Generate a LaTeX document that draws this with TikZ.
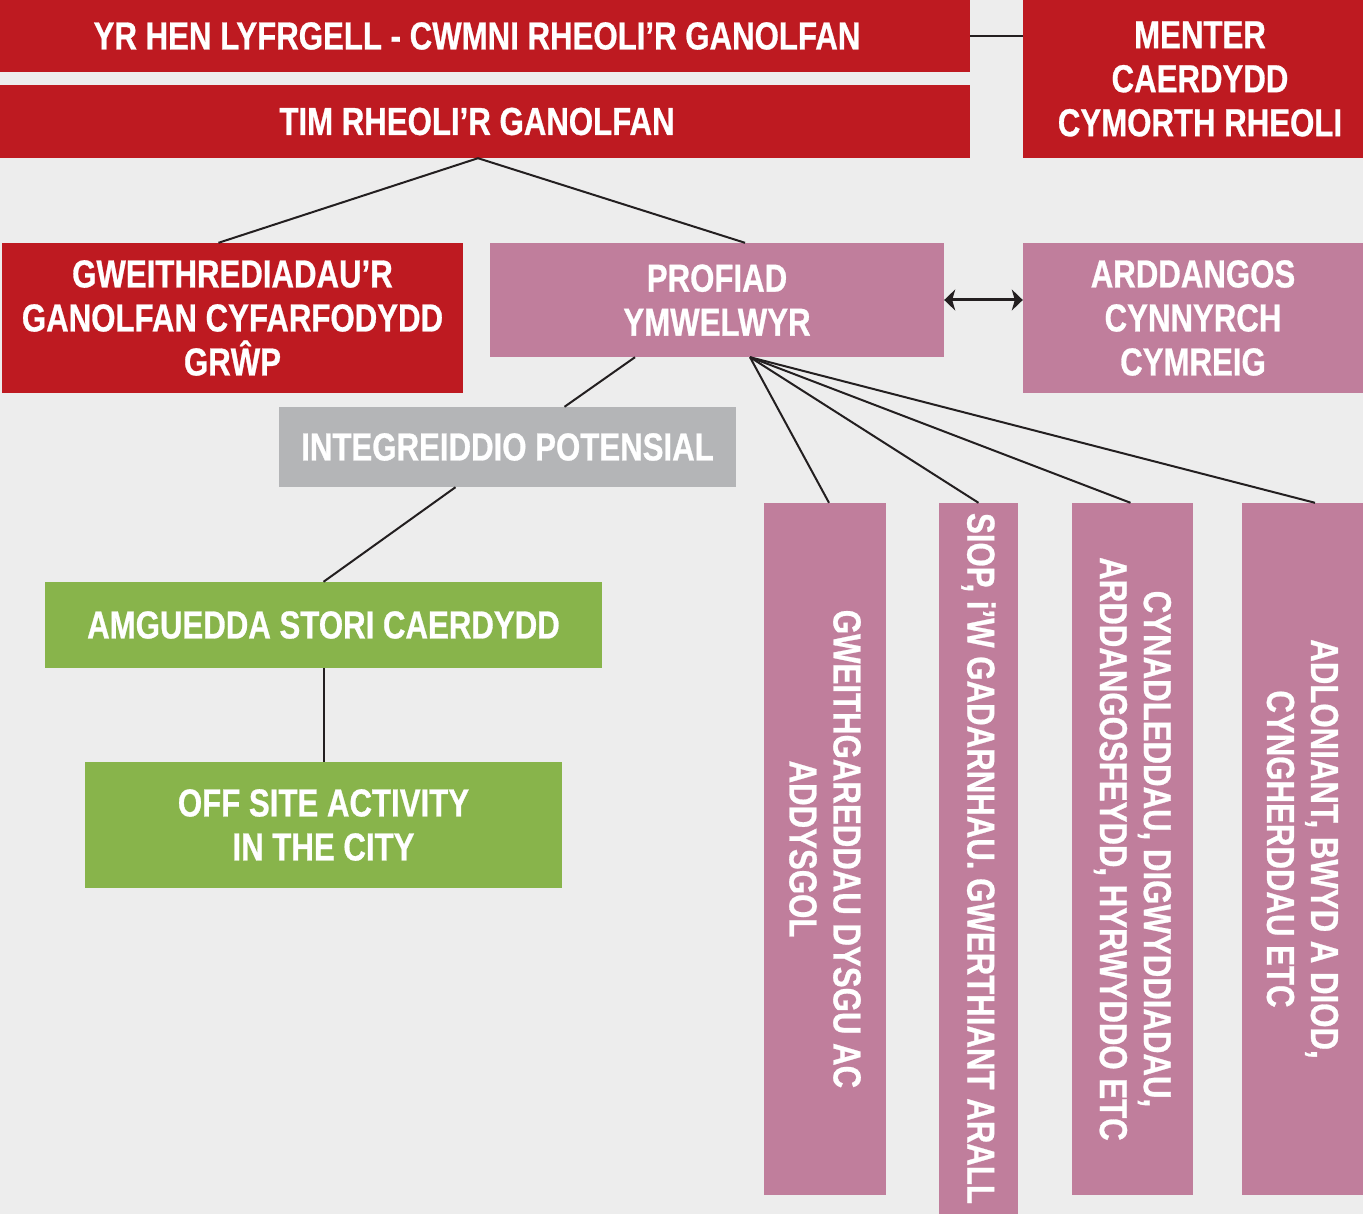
\documentclass[tikz,border=0pt]{standalone}
\usepackage{fontspec}
\setmainfont[FakeStretch=0.8, BoldFeatures={FakeBold=0.7}]{Liberation Sans}
\usetikzlibrary{arrows.meta,calc}
\definecolor{bgc}{HTML}{EDEDED}
\definecolor{cred}{HTML}{BE1A21}
\definecolor{cpink}{HTML}{C07E9C}
\definecolor{cgray}{HTML}{B4B5B7}
\definecolor{cgreen}{HTML}{88B44B}
\definecolor{cline}{HTML}{231F20}
\begin{document}
\begin{tikzpicture}[x=1pt,y=-1pt,
  box/.style={rectangle, inner sep=0pt, text=white, align=center,
    font=\bfseries\fontsize{39}{44}\selectfont},
  redbox/.style={box, fill=cred},
  pinkbox/.style={box, fill=cpink},
  graybox/.style={box, fill=cgray},
  greenbox/.style={box, fill=cgreen},
  vbox/.style={pinkbox, rotate=-90},
  conn/.style={draw=cline, line width=2pt},
  dbl/.style={draw=cline, line width=3pt, {Stealth[length=11pt,width=21pt,inset=3pt]}-{Stealth[length=11pt,width=21pt,inset=3pt]}}
]
\fill[bgc] (0,0) rectangle (1363,1214);
\useasboundingbox (0,0) rectangle (1363,1214);

\node[redbox, minimum width=970pt, minimum height=72pt] (top1) at (485,36)
  {YR HEN LYFRGELL - CWMNI RHEOLI’R GANOLFAN\hspace*{16pt}};
\node[redbox, minimum width=970pt, minimum height=73pt] (top2) at (485,121.5)
  {TIM RHEOLI’R GANOLFAN\hspace*{16pt}};
\node[redbox, minimum width=340pt, minimum height=158pt] (menter) at (1193,79)
  {\hspace*{14pt}MENTER\\\hspace*{14pt}CAERDYDD\\\hspace*{14pt}CYMORTH RHEOLI};
\node[redbox, minimum width=461pt, minimum height=150pt] (gweith) at (232.5,318)
  {GWEITHREDIADAU’R\\GANOLFAN CYFARFODYDD\\GRŴP};
\node[pinkbox, minimum width=454pt, minimum height=114pt] (profiad) at (717,300)
  {PROFIAD\\YMWELWYR};
\node[pinkbox, minimum width=340pt, minimum height=150pt] (ardd) at (1193,318)
  {ARDDANGOS\\CYNNYRCH\\CYMREIG};
\node[graybox, minimum width=457pt, minimum height=80pt] (integ) at (507.5,447)
  {INTEGREIDDIO POTENSIAL};
\node[greenbox, minimum width=557pt, minimum height=86pt] (amg) at (323.5,625)
  {AMGUEDDA STORI CAERDYDD};
\node[greenbox, minimum width=477pt, minimum height=126pt] (off) at (323.5,825)
  {OFF SITE ACTIVITY\\IN THE CITY};
\node[vbox, minimum width=692pt, minimum height=122pt] (v1) at (825,849)
  {GWEITHGAREDDAU DYSGU AC\\ADDYSGOL};
\node[vbox, minimum width=711pt, minimum height=79pt] (v2) at (978.5,858.5)
  {SIOP, i’W GADARNHAU. GWERTHIANT ARALL};
\node[vbox, minimum width=692pt, minimum height=121pt] (v3) at (1132.5,849)
  {CYNADLEDDAU, DIGWYDDIADAU,\\ARDDANGOSFEYDD, HYRWYDDO ETC};
\node[vbox, minimum width=692pt, minimum height=121pt] (v4) at (1302.5,849)
  {ADLONIANT, BWYD A DIOD,\\CYNGHERDDAU ETC};

\draw[conn] (top1.east) -- (top1.east -| menter.west);
\draw[conn] ($(top2.south)+(-7,0)$) -- ($(gweith.north)+(-14,0)$);
\draw[conn] ($(top2.south)+(-7,0)$) -- ($(profiad.north)+(28,0)$);
\draw[conn] ($(profiad.south)+(-82,0)$) -- ($(integ.north)+(57,0)$);
\draw[conn] ($(integ.south)+(-52,0)$) -- (amg.north);
\draw[conn] (amg.south) -- (off.north);
\draw[conn] ($(profiad.south)+(33,0)$) -- ($(v1.west)+(4,0)$);
\draw[conn] ($(profiad.south)+(33,0)$) -- (v2.west);
\draw[conn] ($(profiad.south)+(33,0)$) -- ($(v3.west)+(-2,0)$);
\draw[conn] ($(profiad.south)+(33,0)$) -- ($(v4.west)+(12.5,0)$);
\draw[dbl] (profiad.east) -- (profiad.east -| ardd.west);
\end{tikzpicture}
\end{document}
